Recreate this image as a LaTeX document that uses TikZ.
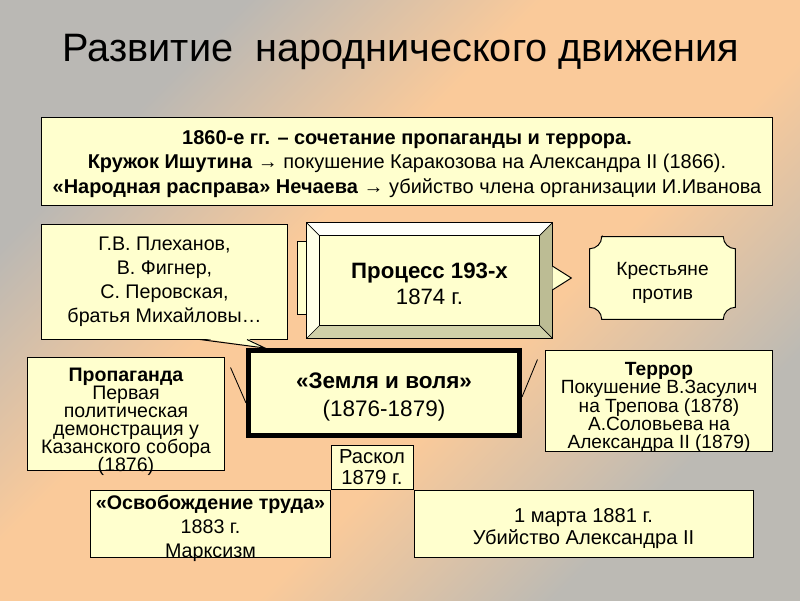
\documentclass[tikz,border=0pt]{standalone}
\usepackage{fontspec}
\setmainfont{Liberation Sans}
\usetikzlibrary{calc,positioning}

\definecolor{paper}{RGB}{255,255,206}
\definecolor{bgpeach}{RGB}{250,202,154}
\definecolor{bggrey}{RGB}{186,184,180}
\definecolor{bgdark}{RGB}{188,186,180}
\definecolor{bevtop}{RGB}{255,255,250}
\definecolor{bevleft}{RGB}{255,255,232}
\definecolor{bevright}{RGB}{188,188,148}
\definecolor{bevbottom}{RGB}{208,208,168}
\pgfdeclareverticalshading{bgband}{100bp}{color(0bp)=(bgdark); color(27bp)=(bgdark);
  color(42bp)=(bgpeach); color(58bp)=(bgpeach); color(73bp)=(bggrey); color(100bp)=(bggrey)}
\setlength{\lineskiplimit}{-8pt}

\begin{document}
\begin{tikzpicture}[x=0.025cm, y=0.025cm,
    box/.style = {draw, fill=paper, align=center, inner sep=0pt, line width=0.7pt},
    txt/.style = {align=center, inner sep=0pt},
    tight/.style = {txt, font=\fontsize{13.9}{12.8}\selectfont}]
    % background
    \shade[shading=bgband, shading angle=45] (0,0) rectangle (800,-600);
    \useasboundingbox (0,0) rectangle (800,-600);

    \node[font=\fontsize{28.2}{32}\selectfont] (title) at (401,-52) {Развитие\ \ народнического движения};

    \node[box, minimum width=18.25cm, minimum height=2.2cm] (top) at (407,-161) {};
    \node[txt, font=\fontsize{14.2}{17.4}\selectfont] (toptext) at ($(top)+(0,-3)$)
        {\textbf{1860-е гг. – сочетание пропаганды и террора.}\\
         \textbf{Кружок Ишутина} → покушение Каракозова на Александра II (1866).\\
         \textbf{«Народная расправа» Нечаева} → убийство члена организации И.Иванова};

    % centre
    \node[box, line width=3.5pt, minimum width=6.775cm, minimum height=2.125cm] (zemlya) at (384,-393) {};
    \node[txt, font=\fontsize{16}{20}\selectfont] (zemlyatext) at ($(zemlya)+(0,-4)$)
        {\textbf{«Земля и воля»}\\(1876-1879)};

    \node[box, minimum width=6.125cm, minimum height=2.875cm, font=\fontsize{14}{17}\selectfont] (pleh) at (164.5,-281.5)
        {Г.В. Плеханов,\\В. Фигнер,\\С. Перовская,\\братья Михайловы…};
    \fill[paper] ($(pleh.south)+(35.5,1.5)$) -- ($(zemlya.north west)+(19,0)$) -- ($(pleh.south)+(82.5,1.5)$) -- cycle;
    \draw[line width=0.7pt] ($(pleh.south)+(35.5,0)$) -- ($(zemlya.north west)+(19,0)$) -- ($(pleh.south)+(82.5,0)$);

    % process 193
    \node[box, minimum width=6.05cm, minimum height=1.825cm] (hidden) at (419,-277.5) {};
    \node[minimum width=6.125cm, minimum height=2.875cm, inner sep=0pt] (process) at (429.5,-280.5) {};
    \fill[bevtop] (process.north west) -- (process.north east) -- ($(process.north east)+(-13,-13)$) -- ($(process.north west)+(13,-13)$) -- cycle;
    \fill[bevleft] (process.north west) -- ($(process.north west)+(13,-13)$) -- ($(process.south west)+(13,13)$) -- (process.south west) -- cycle;
    \fill[bevright] (process.north east) -- (process.south east) -- ($(process.south east)+(-13,13)$) -- ($(process.north east)+(-13,-13)$) -- cycle;
    \fill[bevbottom] (process.south west) -- (process.south east) -- ($(process.south east)+(-13,13)$) -- ($(process.south west)+(13,13)$) -- cycle;
    \draw[fill=paper, line width=0.7pt] ($(process.north west)+(13,-13)$) rectangle ($(process.south east)+(-13,13)$);
    \draw[line width=0.7pt] (process.north west) rectangle (process.south east);
    \draw[line width=0.5pt] (process.north west) -- ++(13,-13) (process.north east) -- ++(-13,-13)
        (process.south west) -- ++(13,13) (process.south east) -- ++(-13,13);
    \node[txt, font=\fontsize{15.8}{18.5}\selectfont] (proctext) at ($(process)+(0,-3)$) {\textbf{Процесс 193-х}\\1874 г.};
    \draw[fill=paper, line width=0.7pt] ($(process.east)+(0,14.5)$) -- ($(process.east)+(19,2.5)$) -- ($(process.east)+(0,-9.5)$);

    % peasants
    \node[minimum width=3.625cm, minimum height=2.05cm, inner sep=0pt] (krest) at (662.5,-278) {};
    \draw[fill=paper, line width=0.7pt] ($(krest.north west)+(12,0)$) -- ($(krest.north east)+(-12,0)$)
        arc[start angle=180, end angle=270, radius=0.3cm] -- ($(krest.south east)+(0,12)$)
        arc[start angle=90, end angle=180, radius=0.3cm] -- ($(krest.south west)+(12,0)$)
        arc[start angle=0, end angle=90, radius=0.3cm] -- ($(krest.north west)+(0,-12)$)
        arc[start angle=270, end angle=360, radius=0.3cm] -- cycle;
    \node[txt, font=\fontsize{13.6}{17}\selectfont] (kresttext) at ($(krest)+(0,-5)$) {Крестьяне\\против};

    % sides
    \node[box, minimum width=4.9cm, minimum height=2.825cm] (prop) at (126,-413.5) {};
    \node[tight] (proptext) at ($(prop)+(0,-8)$)
        {\textbf{Пропаганда}\\Первая\\политическая\\демонстрация у\\Казанского собора\\(1876)};
    \draw[line width=0.6pt] ($(prop.north east)+(6,-11)$) -- ($(zemlya.west)+(0,-10)$);

    \node[box, minimum width=5.65cm, minimum height=2.525cm] (terror) at (659,-400.5) {};
    \node[tight, font=\fontsize{13.6}{13}\selectfont] (terrortext) at ($(terror)+(0,-7)$)
        {\textbf{Террор}\\Покушение В.Засулич\\на Трепова (1878)\\А.Соловьева на\\Александра II (1879)};
    \draw[line width=0.6pt] ($(terror.north west)+(-8,-10)$) -- ($(zemlya.east)+(0,-4)$);

    % bottom
    \node[box, minimum width=2.05cm, minimum height=1.1cm, font=\fontsize{14.4}{14.4}\selectfont] (raskol) at (372,-467) {Раскол\\1879 г.};
    \node[box, minimum width=5.975cm, minimum height=1.675cm, below left=0pt and 0pt of raskol.south west] (osvob) {};
    \node[txt, font=\fontsize{14}{17}\selectfont] (osvobtext) at ($(osvob)+(0,-5)$)
        {\textbf{«Освобождение труда»}\\1883 г.\\Марксизм};
    \node[box, minimum width=8.475cm, minimum height=1.675cm, below right=0pt and 0pt of raskol.south east] (mart) {};
    \node[txt, font=\fontsize{14.3}{15.6}\selectfont] (marttext) at ($(mart)+(0,-5)$)
        {1 марта 1881 г.\\Убийство Александра II};
\end{tikzpicture}
\end{document}
